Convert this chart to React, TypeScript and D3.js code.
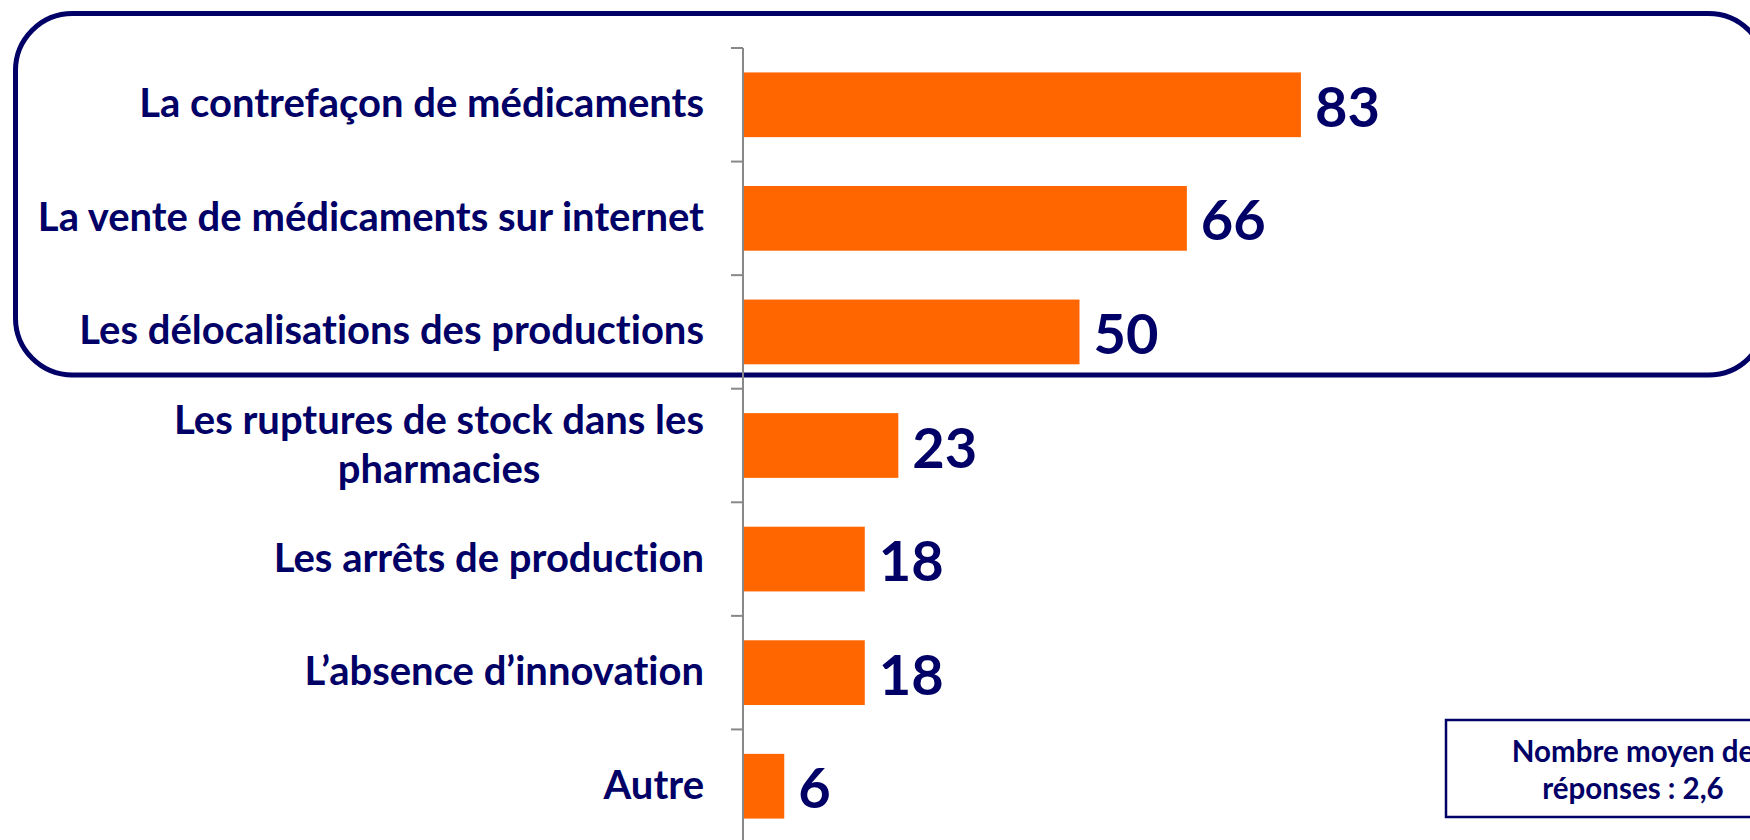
import React, { useEffect, useRef } from "react";
import * as d3 from "d3";

const categories: string[] = [
  "La contrefaçon de médicaments",
  "La vente de médicaments sur internet",
  "Les délocalisations des productions",
  "Les ruptures de stock dans les pharmacies",
  "Les arrêts de production",
  "L’absence d’innovation",
  "Autre",
];
const labelLines: string[][] = [
  ["La contrefaçon de médicaments"],
  ["La vente de médicaments sur internet"],
  ["Les délocalisations des productions"],
  ["Les ruptures de stock dans les", "pharmacies"],
  ["Les arrêts de production"],
  ["L’absence d’innovation"],
  ["Autre"],
];
const values: number[] = [83, 66, 50, 23, 18, 18, 6];
const noteLines: string[] = ["Nombre moyen de", "réponses : 2,6"];

const W = 1750;
const H = 840;
const NAVY = "#000066";
const ORANGE = "#FF6600";
const GRAY = "#888888";
const FONT = "Lato, 'Open Sans', sans-serif";

export default function App() {
  const ref = useRef<SVGSVGElement | null>(null);

  useEffect(() => {
    const svg = d3.select(ref.current);
    svg.selectAll("*").remove();
    svg.style("font-variant-ligatures", "none").style("font-feature-settings", "'liga' 0");

    const x = d3.scaleLinear().domain([0, 100]).range([744, 1415]);
    const y = d3
      .scaleBand<string>()
      .domain(categories)
      .range([48, 843])
      .paddingInner(0.43)
      .paddingOuter(0.215);
    const bw = y.bandwidth();
    const gap = (y.step() - bw) / 2;

    // highlight rounded box
    svg
      .append("rect")
      .attr("x", 15.5)
      .attr("y", 13.5)
      .attr("width", 1750)
      .attr("height", 361.5)
      .attr("rx", 57)
      .attr("ry", 57)
      .attr("fill", "none")
      .attr("stroke", NAVY)
      .attr("stroke-width", 5);

    // axis line + ticks at band boundaries
    const axisX = 743;
    svg
      .append("line")
      .attr("x1", axisX)
      .attr("x2", axisX)
      .attr("y1", y.range()[0])
      .attr("y2", y.range()[1])
      .attr("stroke", GRAY)
      .attr("stroke-width", 2);
    const bounds = categories.map((c) => (y(c) as number) - gap);
    bounds.push(y.range()[1]);
    svg
      .selectAll("line.tick")
      .data(bounds)
      .enter()
      .append("line")
      .attr("class", "tick")
      .attr("x1", axisX - 12)
      .attr("x2", axisX)
      .attr("y1", (d) => d)
      .attr("y2", (d) => d)
      .attr("stroke", GRAY)
      .attr("stroke-width", 2);

    // bars
    svg
      .selectAll("rect.bar")
      .data(values)
      .enter()
      .append("rect")
      .attr("class", "bar")
      .attr("x", x(0))
      .attr("y", (_, i) => y(categories[i]) as number)
      .attr("width", (d) => x(d) - x(0))
      .attr("height", bw)
      .attr("fill", ORANGE);

    // value labels
    svg
      .selectAll("text.val")
      .data(values)
      .enter()
      .append("text")
      .attr("class", "val")
      .attr("x", (d) => x(d) + 14)
      .attr("y", (_, i) => (y(categories[i]) as number) + bw / 2 + 22)
      .attr("font-family", FONT)
      .attr("font-weight", 700)
      .attr("font-size", 56)
      .attr("fill", NAVY)
      .text((d) => String(d));

    // category labels
    const labelRight = 704;
    const lineH = 49;
    labelLines.forEach((lines, i) => {
      const cy = (y(categories[i]) as number) + bw / 2;
      const g = svg.append("g");
      const texts = lines.map((ln, j) =>
        g
          .append("text")
          .attr("y", cy + 12.5 + (j - (lines.length - 1) / 2) * lineH)
          .attr("font-family", FONT)
          .attr("font-weight", 700)
          .attr("font-size", 40)
          .attr("fill", NAVY)
          .attr("text-anchor", "middle")
          .text(ln)
      );
      const widths = texts.map((t) => (t.node() as SVGTextElement).getComputedTextLength());
      const maxW = Math.max(...widths);
      texts.forEach((t) => t.attr("x", labelRight - maxW / 2));
    });

    // note box
    svg
      .append("rect")
      .attr("x", 1446)
      .attr("y", 720)
      .attr("width", 374)
      .attr("height", 97)
      .attr("fill", "white")
      .attr("stroke", NAVY)
      .attr("stroke-width", 2.5);
    noteLines.forEach((ln, j) => {
      svg
        .append("text")
        .attr("x", 1633)
        .attr("y", 762 + j * 37)
        .attr("text-anchor", "middle")
        .attr("font-family", FONT)
        .attr("font-weight", 700)
        .attr("font-size", 29.5)
        .attr("fill", NAVY)
        .text(ln);
    });
  }, []);

  return (
    <svg
      ref={ref}
      width={W}
      height={H}
      viewBox={`0 0 ${W} ${H}`}
      style={{ position: "absolute", left: 0, top: 0, background: "white" }}
    />
  );
}
